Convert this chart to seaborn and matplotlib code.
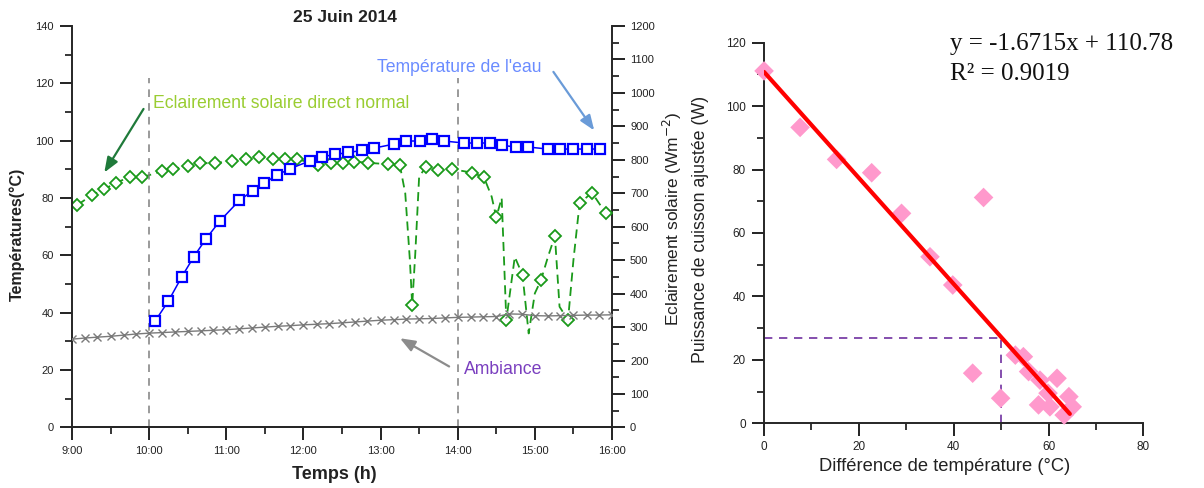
import matplotlib
matplotlib.use("Agg")
import matplotlib.pyplot as plt
from matplotlib.ticker import MultipleLocator, FixedLocator
import seaborn as sns
import numpy as np

# ---------------- data : left chart (25 Juin 2014) ----------------
hour_ticks = [9, 10, 11, 12, 13, 14, 15, 16]
hour_labels = ["9:00", "10:00", "11:00", "12:00", "13:00", "14:00", "15:00", "16:00"]

water_t = [10.08, 10.25, 10.42, 10.58, 10.74, 10.92, 11.17, 11.34, 11.49, 11.66, 11.82,
           12.08, 12.24, 12.41, 12.58, 12.76, 12.91, 13.17, 13.33, 13.51, 13.67, 13.82,
           14.08, 14.25, 14.42, 14.57, 14.76, 14.91, 15.17, 15.33, 15.49, 15.67, 15.85]
water_T = [37.2, 44.1, 52.4, 59.6, 65.9, 72.1, 79.2, 82.5, 85.3, 88.0, 90.2,
           92.9, 94.4, 95.2, 95.9, 96.6, 97.4, 98.8, 99.9, 99.9, 100.7, 99.9,
           99.2, 99.2, 99.2, 98.4, 97.8, 97.8, 97.1, 97.1, 97.1, 97.1, 97.1]

amb_t = [9.00, 9.17, 9.33, 9.50, 9.67, 9.83, 10.00, 10.17, 10.33, 10.50, 10.67, 10.83,
         11.00, 11.17, 11.33, 11.50, 11.67, 11.83, 12.00, 12.17, 12.33, 12.50, 12.67, 12.83,
         13.00, 13.17, 13.33, 13.50, 13.67, 13.83, 14.00, 14.17, 14.33, 14.50, 14.67, 14.83,
         15.00, 15.17, 15.33, 15.50, 15.67, 15.83, 16.00]
amb_T = [30.8, 31.2, 31.5, 31.8, 32.2, 32.6, 32.9, 33.1, 33.3, 33.5, 33.7, 33.9,
         34.1, 34.4, 34.7, 35.0, 35.3, 35.5, 35.8, 36.0, 36.2, 36.5, 36.8, 37.1,
         37.4, 37.6, 37.8, 37.9, 38.0, 38.2, 38.4, 38.5, 38.6, 38.7, 39.6, 39.5,
         39.0, 38.9, 39.0, 39.1, 39.2, 39.2, 39.3]

dni_t = [9.07, 9.26, 9.42, 9.57, 9.75, 9.91, 10.17, 10.31, 10.51, 10.66, 10.85,
         11.08, 11.26, 11.42, 11.60, 11.76, 11.92, 12.19, 12.36, 12.51, 12.65, 12.84,
         13.10, 13.25, 13.32, 13.38, 13.41, 13.45, 13.50, 13.59, 13.74, 13.93, 14.18,
         14.34, 14.44, 14.50, 14.57, 14.63, 14.74, 14.84, 14.92, 15.00, 15.08, 15.17,
         15.26, 15.32, 15.43, 15.50, 15.58, 15.74, 15.92]
dni_G = [665, 695, 712, 732, 748, 748, 766, 772, 783, 790, 790,
         797, 802, 809, 802, 802, 802, 785, 790, 791, 795, 791,
         787, 784, 700, 500, 366, 520, 750, 779, 770, 772, 762,
         748, 690, 628, 686, 321, 510, 456, 281, 401, 441, 510,
         573, 361, 321, 500, 670, 702, 640]
dni_marked = [1, 1, 1, 1, 1, 1, 1, 1, 1, 1, 1,
              1, 1, 1, 1, 1, 1, 1, 1, 1, 1, 1,
              1, 1, 0, 0, 1, 0, 0, 1, 1, 1, 1,
              1, 0, 1, 0, 1, 0, 1, 0, 0, 1, 0,
              1, 0, 1, 0, 1, 1, 1]

# ---------------- data : right chart ----------------
dT = [0.0, 7.6, 15.3, 22.7, 29.0, 35.0, 39.8, 46.3, 44.0, 49.9, 53.0, 54.7, 55.8,
      58.2, 57.9, 60.3, 59.9, 61.8, 64.3, 63.3, 65.0]
P = [111.1, 93.3, 83.2, 79.0, 66.2, 52.5, 43.6, 71.2, 15.8, 7.9, 21.5, 21.0, 16.3,
     13.6, 5.8, 5.2, 9.5, 14.2, 8.4, 2.6, 5.2]
fit_slope = -1.6715
fit_intercept = 110.78
fit_r2 = 0.9019
ref_dT = 50
ref_P = 27

# ---------------- style ----------------
sns.set_style("ticks")
plt.rcParams["font.family"] = ["Liberation Sans", "DejaVu Sans"]
plt.rcParams["axes.linewidth"] = 1.4
for k in ("xtick.major.width", "ytick.major.width", "xtick.minor.width", "ytick.minor.width"):
    plt.rcParams[k] = 1.3
plt.rcParams["xtick.direction"] = "out"
plt.rcParams["ytick.direction"] = "out"

fig = plt.figure(figsize=(12.04, 4.88), dpi=100)
TXT = "#222222"

# ================= left chart =================
ax = fig.add_axes([0.0598, 0.124, 0.4485, 0.8227])
ax2 = ax.twinx()

ax.vlines([10, 14], 0, 122, colors="#7f7f7f", linestyles=(0, (5, 4)), linewidth=1.1, zorder=1)

sns.lineplot(x=amb_t, y=amb_T, ax=ax, color="#7a7a7a", linewidth=1.0, marker="x",
             markersize=5.5, markeredgewidth=1.0, markeredgecolor="#7a7a7a",
             sort=False, estimator=None, zorder=3)
sns.lineplot(x=water_t, y=water_T, ax=ax, color="#0000ff", linewidth=1.1, marker="s",
             markersize=7, markerfacecolor="white", markeredgecolor="#0000ff",
             markeredgewidth=1.6, sort=False, estimator=None, zorder=4)

marks = [i for i, m in enumerate(dni_marked) if m]
sns.lineplot(x=dni_t, y=dni_G, ax=ax2, color="#1a9a1a", linewidth=1.3,
             linestyle=(0, (5, 3)), marker="D", markersize=6, markerfacecolor="white",
             markeredgecolor="#1a9a1a", markeredgewidth=1.3, markevery=marks,
             sort=False, estimator=None, zorder=3)

ax.set_xlim(9, 16)
ax.set_ylim(0, 140)
ax2.set_ylim(0, 1200)
ax.xaxis.set_major_locator(FixedLocator(hour_ticks))
ax.set_xticklabels(hour_labels)
ax.xaxis.set_minor_locator(MultipleLocator(0.5))
ax.yaxis.set_major_locator(MultipleLocator(20))
ax.yaxis.set_minor_locator(MultipleLocator(10))
ax2.yaxis.set_major_locator(MultipleLocator(100))
ax2.yaxis.set_minor_locator(MultipleLocator(50))
for a in (ax, ax2):
    a.tick_params(which="major", length=9, labelsize=8, colors="#111111", labelcolor=TXT, pad=4)
    a.tick_params(which="minor", length=5)
    a.spines["top"].set_visible(False)
ax.spines["right"].set_visible(False)
ax2.spines["left"].set_visible(False)
ax.set_zorder(ax2.get_zorder() + 1)
ax.patch.set_visible(False)

ax.set_xlabel("Temps (h)", fontsize=13, fontweight="bold", color=TXT)
ax.xaxis.set_label_coords(0.485, -0.095)
ax.set_ylabel("Températures(°C)", fontsize=11.5, fontweight="bold", color=TXT)
ax.yaxis.set_label_coords(-0.088, 0.48)
ax2.set_ylabel("Eclairement solaire (Wm$^{-2}$)", fontsize=12.5, color=TXT)
ax2.yaxis.set_label_coords(1.091, 0.52)

fig.text(345 / 1204, 1 - 18 / 488, "25 Juin 2014", ha="center", va="center",
         fontsize=12.5, fontweight="bold", color=TXT)

ANN = 12.7
ax.text(10.05, 112.9, "Eclairement solaire direct normal", color="#9ACD32",
        fontsize=ANN, va="center", ha="left")
ax.annotate("", xy=(9.40, 88.1), xytext=(9.946, 111.9),
            arrowprops=dict(arrowstyle="-|>,head_length=0.9,head_width=0.35",
                            color="#1f7a3a", lw=1.6))
ax.text(12.95, 125.5, "Température de l'eau", color="#6b8cff",
        fontsize=ANN, va="center", ha="left")
ax.annotate("", xy=(15.79, 102.8), xytext=(15.22, 124.8),
            arrowprops=dict(arrowstyle="-|>,head_length=0.9,head_width=0.35",
                            color="#6a9bd8", lw=1.6))
ax.text(14.08, 20.1, "Ambiance", color="#7a3fbf", fontsize=ANN, va="center", ha="left")
ax.annotate("", xy=(13.22, 31.6), xytext=(13.92, 20.8),
            arrowprops=dict(arrowstyle="-|>,head_length=0.9,head_width=0.35",
                            color="#8c8c8c", lw=1.6))

# ================= right chart =================
bx = fig.add_axes([0.6346, 0.1326, 0.315, 0.7799])
bx.plot([0, ref_dT], [ref_P, ref_P], color="#7030a0", linestyle=(0, (5, 4)), linewidth=1.2, zorder=2)
bx.plot([ref_dT, ref_dT], [0, ref_P], color="#7030a0", linestyle=(0, (5, 4)), linewidth=1.2, zorder=2)

sns.scatterplot(x=dT, y=P, ax=bx, marker="D", s=100, color="#ff99cc",
                edgecolor="none", linewidth=0, zorder=3, clip_on=False)

fit_x = np.array([min(dT), max(dT) - 0.5])
bx.plot(fit_x, fit_slope * fit_x + fit_intercept, color="#ff0000", linewidth=3, zorder=4,
        solid_capstyle="round")

bx.set_xlim(0, 80)
bx.set_ylim(0, 120)
bx.xaxis.set_major_locator(MultipleLocator(20))
bx.xaxis.set_minor_locator(MultipleLocator(10))
bx.yaxis.set_major_locator(MultipleLocator(20))
bx.yaxis.set_minor_locator(MultipleLocator(10))
bx.tick_params(which="major", length=9, labelsize=8.5, colors="#111111", labelcolor=TXT, pad=4)
bx.tick_params(which="minor", length=5)
sns.despine(ax=bx)

bx.set_xlabel("Différence de température (°C)", fontsize=13.2, color=TXT)
bx.xaxis.set_label_coords(0.475, -0.09)
bx.set_ylabel("Puissance de cuisson ajustée (W)", fontsize=12.8, color=TXT)
bx.yaxis.set_label_coords(-0.145, 0.51)

serif = ["Liberation Serif", "DejaVu Serif"]
bx.text(39.2, 117.7, f"y = {fit_slope}x + {fit_intercept}", family=serif, fontsize=18,
        color="#111111", va="baseline", ha="left")
bx.text(39.2, 108.2, f"R² = {fit_r2}", family=serif, fontsize=18,
        color="#111111", va="baseline", ha="left")

fig.savefig("out.png", dpi=100)
